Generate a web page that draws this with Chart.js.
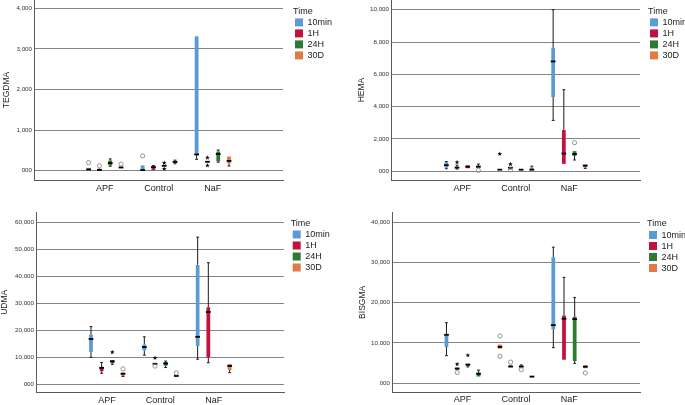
<!DOCTYPE html>
<html><head><meta charset="utf-8">
<script src="https://cdn.jsdelivr.net/npm/chart.js@4.4.1/dist/chart.umd.min.js"></script>
<style>
html,body{margin:0;padding:0;background:#fff;width:685px;height:405px;overflow:hidden;position:relative}
canvas{position:absolute}
</style></head><body>
<canvas id="c1" width="342" height="200" style="left:0;top:0;width:342px;height:200px"></canvas>
<canvas id="c2" width="342" height="200" style="left:343px;top:0;width:342px;height:200px"></canvas>
<canvas id="c3" width="342" height="205" style="left:0;top:200px;width:342px;height:205px"></canvas>
<canvas id="c4" width="342" height="205" style="left:343px;top:200px;width:342px;height:205px"></canvas>
<script>
// ---------- data ----------
const categories = ['APF', 'Control', 'NaF'];
const seriesNames = ['10min', '1H', '24H', '30D'];
// each entry per category: [min, Q1, median, Q3, max]
const TEGDMA_10min = [[0,5,30,70,70],[0,5,15,130,130],[280,390,400,3310,3310]];
const TEGDMA_1H    = [[0,5,20,50,55],[10,15,90,100,125],[210,215,220,225,230]];
const TEGDMA_24H   = [[110,130,190,250,290],[110,115,120,125,130],[210,230,410,470,510]];
const TEGDMA_30D   = [[50,60,80,100,100],[170,190,215,245,260],[115,180,240,350,350]];
// outliers: [category, series, value, kind]  (o = outlier, * = extreme)
const TEGDMA_outliers = [[0,0,200,'o'],[0,1,120,'o'],[0,3,165,'o'],[1,0,365,'o'],[1,2,190,'*'],[1,2,45,'*'],[2,1,320,'*'],[2,1,128,'*']];
const TEGDMA_ticks = [0,1000,2000,3000,4000];
const TEGDMA_tickLabels = ['000','1,000','2,000','3,000','4,000'];

const HEMA_10min = [[160,230,380,560,600],[60,80,100,120,140],[3150,4600,6800,7650,10000]];
const HEMA_1H    = [[140,200,230,250,380],[150,200,220,250,260],[450,460,1100,2550,5050]];
const HEMA_24H   = [[180,190,280,380,380],[60,70,100,130,130],[700,950,1070,1250,1250]];
const HEMA_30D   = [[210,220,290,340,450],[40,60,100,230,320],[180,250,350,430,430]];
const HEMA_outliers = [[0,1,560,'*'],[0,3,60,'o'],[1,0,1080,'*'],[1,1,440,'*'],[1,1,90,'o'],[2,2,1770,'o']];
const HEMA_ticks = [0,2000,4000,6000,8000,10000];
const HEMA_tickLabels = ['000','2,000','4,000','6,000','8,000','10,000'];

const UDMA_10min = [[9900,11900,16700,18400,21300],[10700,12400,13700,14700,17500],[9200,14100,17500,44200,54500]];
const UDMA_1H    = [[4000,4700,6000,6300,8000],[7300,7300,7500,7700,7700],[7900,9900,26700,28500,45000]];
const UDMA_24H   = [[7300,7700,8400,8900,8900],[6100,6800,7600,8200,8500],null];
const UDMA_30D   = [[2800,3100,3800,4300,4300],[2700,2800,3000,3300,3300],[4200,5200,6700,7400,7400]];
const UDMA_outliers = [[0,2,11800,'*'],[0,3,5600,'o'],[1,1,9700,'*'],[1,1,6650,'o'],[1,3,4100,'o']];
const UDMA_ticks = [0,10000,20000,30000,40000,50000,60000];
const UDMA_tickLabels = ['000','10,000','20,000','30,000','40,000','50,000','60,000'];

const BISGMA_10min = [[6800,8900,12000,12100,15000],[8500,8500,9000,9600,9600],[8800,13400,14400,31300,33800]];
const BISGMA_1H    = [[3200,3300,3600,3800,3800],[3800,3900,4100,4500,4500],[5700,5800,16000,16800,26300]];
const BISGMA_24H   = [[4000,4250,4600,4700,4700],[3800,3800,4100,4300,4500],[4900,5500,15900,16500,21300]];
const BISGMA_30D   = [[1500,1600,2300,2600,3200],[1400,1450,1600,1700,1750],[3600,3650,4050,4500,4500]];
const BISGMA_outliers = [[0,1,4700,'*'],[0,1,2600,'o'],[0,2,6900,'*'],[1,0,11700,'o'],[1,0,6650,'o'],[1,1,5200,'o'],[1,2,3300,'o'],[2,3,2500,'o']];
const BISGMA_ticks = [0,10000,20000,30000,40000];
const BISGMA_tickLabels = ['000','10,000','20,000','30,000','40,000'];

// ---------- style ----------
const PALETTE = ['#5b9bd5', '#c3113f', '#2e7a31', '#e27a46'];
const STD_COLORS = [[0,0,0],[1,1,1],[2,2,2],[3,3,3]];
const HEMA_COLORS = [[0,0,0],[1,1,1],[1,3,2],[2,0,3]];
const BISGMA_COLORS = [[0,3,0],[1,0,1],[1,1,2],[2,2,3]];
const FONT = "'Liberation Sans', Arial, sans-serif";
Chart.defaults.font.family = FONT;
Chart.defaults.color = '#222';

function star(ctx, x, y, r) {
  ctx.beginPath();
  for (let k = 0; k < 10; k++) {
    const a = -Math.PI / 2 + k * Math.PI / 5;
    const rr = k % 2 ? r * 0.45 : r;
    ctx.lineTo(x + rr * Math.cos(a), y + rr * Math.sin(a));
  }
  ctx.closePath(); ctx.fill();
}

function boxPlugin(stats, outliers) {
  return {
    id: 'boxWhiskers',
    afterDatasetsDraw(chart) {
      const ctx = chart.ctx, ys = chart.scales.y;
      ctx.save();
      stats.forEach((ser, si) => {
        const meta = chart.getDatasetMeta(si);
        ser.forEach((s, ci) => {
          if (!s) return;
          const el = meta.data[ci]; if (!el) return;
          const x = el.x, w = el.width, cw = w * 0.75;
          const [mn, q1, md, q3, mx] = s.map(v => ys.getPixelForValue(v));
          ctx.strokeStyle = '#1a1a1a'; ctx.lineWidth = 1;
          ctx.beginPath();
          if (mx < q3 - 0.5) { ctx.moveTo(x, mx); ctx.lineTo(x, q3); ctx.moveTo(x - cw/2, mx); ctx.lineTo(x + cw/2, mx); }
          if (mn > q1 + 0.5) { ctx.moveTo(x, q1); ctx.lineTo(x, mn); ctx.moveTo(x - cw/2, mn); ctx.lineTo(x + cw/2, mn); }
          ctx.stroke();
          ctx.strokeStyle = '#000'; ctx.lineWidth = 1.8;
          ctx.beginPath(); ctx.moveTo(x - w/2 - 0.5, md); ctx.lineTo(x + w/2 + 0.5, md); ctx.stroke();
        });
      });
      outliers.forEach(([ci, si, v, kind]) => {
        const el = chart.getDatasetMeta(si).data[ci]; if (!el) return;
        const y = ys.getPixelForValue(v);
        if (kind === '*') { ctx.fillStyle = '#111'; star(ctx, el.x, y, 2.4); }
        else { ctx.strokeStyle = '#8a8a8a'; ctx.lineWidth = 0.9; ctx.beginPath(); ctx.arc(el.x, y, 2.1, 0, Math.PI * 2); ctx.stroke(); }
      });
      ctx.restore();
    }
  };
}

function makeChart(id, p) {
  const datasets = p.stats.map((ser, si) => ({
    label: seriesNames[si],
    data: ser.map((s, ci) => ({ x: ci, y: s ? [s[1], s[3]] : null })),
    backgroundColor: p.colors[si].map(k => PALETTE[k]),
    borderWidth: 0,
    borderSkipped: false,
    categoryPercentage: 0.8,
    barPercentage: 0.35
  }));
  const fixW = w => s => { s.width = w; s.paddingTop = 0; s.paddingBottom = 0; s.paddingLeft = 0; s.paddingRight = 0; };
  new Chart(document.getElementById(id), {
    type: 'bar',
    data: { datasets },
    plugins: [boxPlugin(p.stats, p.outliers)],
    options: {
      responsive: false, animation: false,
      layout: { autoPadding: false, padding: { top: p.padTop, right: p.padR, bottom: 0, left: 0 } },
      plugins: {
        tooltip: { enabled: false },
        legend: {
          position: 'right', align: 'start', maxWidth: p.legendW,
          title: { display: true, text: 'Time', position: 'start', color: '#222', font: { size: 9 }, padding: { top: 6.6, bottom: -1.5 } },
          labels: {
            boxWidth: 8, boxHeight: 8, padding: 2, color: '#222', font: { size: 9 },
            generateLabels: () => seriesNames.map((n, i) => ({ text: n, fillStyle: PALETTE[i], strokeStyle: PALETTE[i], lineWidth: 0, hidden: false, datasetIndex: i }))
          }
        }
      },
      scales: {
        x: {
          type: 'linear', position: 'bottom', min: p.xMin, max: p.xMax,
          grid: { display: false, drawTicks: false },
          border: { display: true, color: '#5a5a5a', width: 1 },
          ticks: { padding: p.xPad, color: '#222', font: { size: 9 }, maxRotation: 0, autoSkip: false, callback: v => categories[v] },
          afterBuildTicks: s => { s.ticks = categories.map((c, i) => ({ value: i })); },
          afterFit: s => { s.height = p.xH; s.paddingLeft = 0; s.paddingRight = 0; s.paddingTop = 0; s.paddingBottom = 0; }
        },
        y: {
          type: 'linear', position: 'left', min: p.yMin, max: p.yMax,
          grid: { color: '#858585', lineWidth: 1, drawTicks: false },
          border: { display: true, color: '#5a5a5a', width: 1 },
          title: { display: true, text: p.title, color: '#222', font: { size: 8.5 }, padding: { top: p.titlePad, bottom: 0 } },
          ticks: { padding: 2, color: '#333', font: { size: 6.2 }, autoSkip: false, callback: (v, i) => p.tickLabels[i] },
          afterBuildTicks: s => { s.ticks = p.ticks.map(v => ({ value: v })); },
          afterFit: fixW(p.yW)
        },
        gap: {
          type: 'linear', position: 'right', display: true,
          grid: { display: false }, border: { display: false }, ticks: { display: false },
          afterFit: fixW(p.gapW)
        }
      }
    }
  });
}

makeChart('c1', { title: 'TEGDMA', stats: [TEGDMA_10min, TEGDMA_1H, TEGDMA_24H, TEGDMA_30D], outliers: TEGDMA_outliers,
  ticks: TEGDMA_ticks, tickLabels: TEGDMA_tickLabels, colors: STD_COLORS,
  yW: 34, gapW: 10, legendW: 45, padR: 4, padTop: 0, xH: 20, xPad: 3, titlePad: 1.6,
  yMin: -229, yMax: 4204, xMin: -0.543, xMax: 2.531 });
makeChart('c2', { title: 'HEMA', stats: [HEMA_10min, HEMA_1H, HEMA_24H, HEMA_30D], outliers: HEMA_outliers,
  ticks: HEMA_ticks, tickLabels: HEMA_tickLabels, colors: HEMA_COLORS,
  yW: 48, gapW: 8, legendW: 37, padR: 0, padTop: 0, xH: 20, xPad: 3, titlePad: 14,
  yMin: -538, yMax: 10600, xMin: -0.559, xMax: 2.549 });
makeChart('c3', { title: 'UDMA', stats: [UDMA_10min, UDMA_1H, UDMA_24H, UDMA_30D], outliers: UDMA_outliers,
  ticks: UDMA_ticks, tickLabels: UDMA_tickLabels, colors: STD_COLORS,
  yW: 36, gapW: 6.7, legendW: 45, padR: 6.3, padTop: 12, xH: 12.3, xPad: 2.3, titlePad: 0,
  yMin: -3228, yMax: 63822, xMin: -0.556, xMax: 2.544 });
makeChart('c4', { title: 'BISGMA', stats: [BISGMA_10min, BISGMA_1H, BISGMA_24H, BISGMA_30D], outliers: BISGMA_outliers,
  ticks: BISGMA_ticks, tickLabels: BISGMA_tickLabels, colors: BISGMA_COLORS,
  yW: 49, gapW: 7, legendW: 38, padR: 0, padTop: 12.7, xH: 13, xPad: 2.3, titlePad: 14.7,
  yMin: -2240, yMax: 42390, xMin: -0.546, xMax: 2.549 });
</script>
</body></html>
